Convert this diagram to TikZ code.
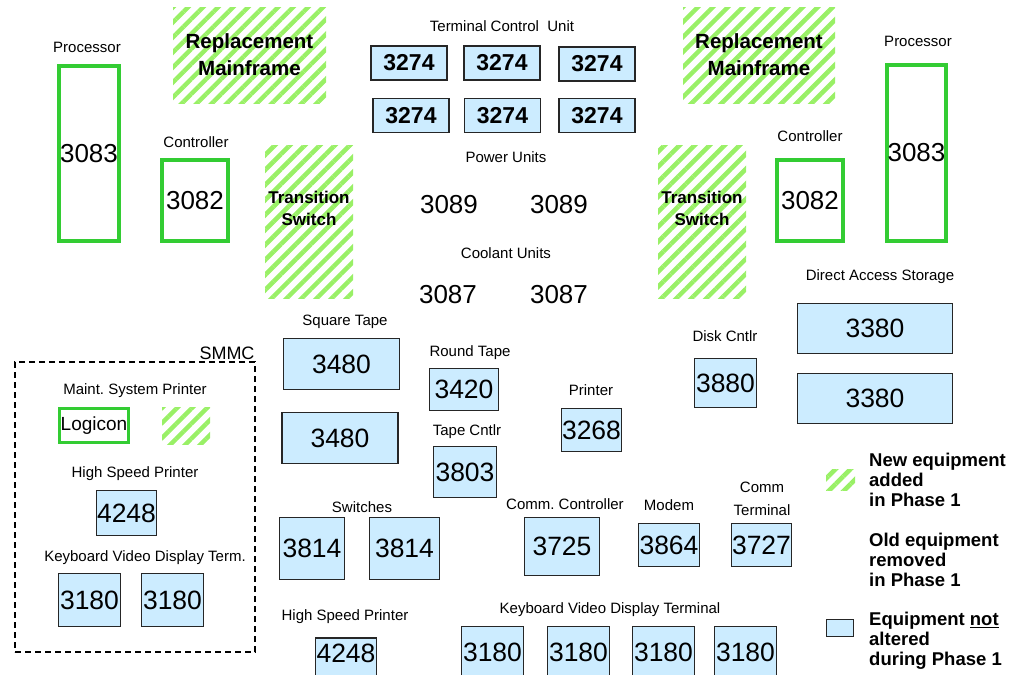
\documentclass[tikz,border=0pt]{standalone}
\usepackage{fontspec}
\setmainfont{Liberation Sans}
\usepackage{tikz}
\usetikzlibrary{patterns.meta}
\definecolor{KeptBlue}{RGB}{204,236,255}
\definecolor{OldGreen}{RGB}{51,204,51}
\definecolor{NewGreen}{RGB}{153,240,102}
\newcommand{\pxsize}[2]{\fontsize{#1}{#2}\selectfont}
\frenchspacing

\begin{document}
\begin{tikzpicture}[x=1pt, y=-1pt,
    sz/.style 2 args={minimum width=#1pt, minimum height=#2pt},
    kept/.style={draw=black!85, line width=1.5pt, fill=KeptBlue, inner sep=0pt, font=\pxsize{26.5}{26.5}},
    tcu/.style={kept, font=\bfseries\pxsize{23}{23}, sz={76}{34}},
    removed/.style={draw=OldGreen, line width=4pt, inner sep=0pt, font=\pxsize{26}{26}},
    added/.style={pattern={Lines[angle=45, distance=10.6pt, line width=4.5pt]}, pattern color=NewGreen, inner sep=0pt, align=center},
    lbl/.style={inner sep=0pt, font=\pxsize{15}{23}, align=center},
    num/.style={inner sep=0pt, font=\pxsize{26}{26}},
    keytext/.style={inner sep=0pt, anchor=west, align=left, font=\bfseries\pxsize{18.5}{20}}]
    \useasboundingbox (0,0) rectangle (1013,675);

    % Left mainframe
    \node (procLlbl) [lbl] at (87,47) {Processor};
    \node (procL) [removed, sz={60}{175}] at (89,153.5) {3083};
    \node (ctlLlbl) [lbl] at (196,142) {Controller};
    \node (ctlL) [removed, sz={66}{81}] at (195,200.5) {3082};
    \node (repL) [added, sz={153}{96}, font=\bfseries\pxsize{20.5}{27}] at (249.5,55) {Replacement\\Mainframe};
    \node (tswL) [added, sz={88}{153}, text depth=26pt, font=\bfseries\pxsize{17}{22}] at (309,221.5) {Transition\\Switch};

    % Terminal control units
    \node (tculbl) [lbl] at (502,26) {Terminal Control\ \ Unit};
    \node (tcuA) [tcu] at (409,63) {3274};
    \node (tcuB) [tcu] at (502,63) {3274};
    \node (tcuC) [tcu] at (597,64) {3274};
    \node (tcuD) [tcu] at (411,115.5) {3274};
    \node (tcuE) [tcu] at (502.5,115.5) {3274};
    \node (tcuF) [tcu] at (597,115.5) {3274};

    % Power and coolant
    \node (pwrlbl) [lbl] at (506,157) {Power Units};
    \node (pwrA) [num] at (449,205) {3089};
    \node (pwrB) [num] at (559,205) {3089};
    \node (coollbl) [lbl] at (506,253) {Coolant Units};
    \node (coolA) [num] at (448,295) {3087};
    \node (coolB) [num] at (559,295) {3087};

    % Right mainframe
    \node (repR) [added, sz={152}{96}, font=\bfseries\pxsize{20.5}{27}] at (759,55) {Replacement\\Mainframe};
    \node (tswR) [added, sz={88}{153}, text depth=26pt, font=\bfseries\pxsize{17}{22}] at (702,221.5) {Transition\\Switch};
    \node (ctlRlbl) [lbl] at (810,136) {Controller};
    \node (ctlR) [removed, sz={66}{81}] at (810,200.5) {3082};
    \node (procRlbl) [lbl] at (918,41) {Processor};
    \node (procR) [removed, sz={59}{176}] at (916.5,153) {3083};

    % Disk storage
    \node (daslbl) [lbl] at (880,277) {Direct Access Storage};
    \node (dasA) [kept, sz={155}{50}] at (875,328.5) {3380};
    \node (dasB) [kept, sz={155}{50}] at (875,398.5) {3380};
    \node (dsklbl) [lbl] at (725,336) {Disk Cntlr};
    \node (dsk) [kept, sz={62}{49}] at (725.5,383) {3880};
    \node (prtlbl) [lbl] at (591,390) {Printer};
    \node (prt) [kept, sz={60}{43}] at (591.5,430) {3268};

    % Tapes
    \node (sqlbl) [lbl] at (345,322) {Square Tape};
    \node (sqA) [kept, sz={116}{51}] at (341.5,364) {3480};
    \node (sqB) [kept, sz={116}{51}] at (340,438) {3480};
    \node (rndlbl) [lbl] at (470,353) {Round Tape};
    \node (rnd) [kept, sz={69}{42}] at (464,389.5) {3420};
    \node (tpclbl) [lbl] at (467,432) {Tape Cntlr};
    \node (tpc) [kept, sz={63}{51}] at (465,472) {3803};

    % Switches and communications
    \node (swlbl) [lbl] at (362,507) {Switches};
    \node (swA) [kept, sz={65}{62}] at (312,548.5) {3814};
    \node (swB) [kept, sz={70}{62}] at (404.5,548.5) {3814};
    \node (cclbl) [lbl] at (565,504) {Comm. Controller};
    \node (cc) [kept, sz={75}{58}] at (562,546.5) {3725};
    \node (mdmlbl) [lbl] at (669,505) {Modem};
    \node (mdm) [kept, sz={61}{43}] at (669,545) {3864};
    \node (ctlbl) [lbl] at (762,498.5) {Comm\\Terminal};
    \node (ct) [kept, sz={60}{43}] at (761.5,545) {3727};

    % Bottom row
    \node (hsplbl) [lbl] at (345,617) {High Speed Printer};
    \node (hsp) [kept, sz={61}{52}, text depth=22pt] at (346,664) {4248};
    \node (kvdlbl) [lbl] at (610,610) {Keyboard Video Display Terminal};
    \node (kvdA) [kept, sz={62}{63}, text depth=12pt] at (492.5,658) {3180};
    \node (kvdB) [kept, sz={62}{63}, text depth=12pt] at (578.5,658) {3180};
    \node (kvdC) [kept, sz={62}{63}, text depth=12pt] at (663.5,658) {3180};
    \node (kvdD) [kept, sz={62}{63}, text depth=12pt] at (745.5,658) {3180};

    % SMMC area
    \node (smmc) [draw, line width=1.5pt, dash pattern=on 6pt off 4pt, sz={240}{290}] at (135,507) {};
    \node (smmclbl) [lbl, font=\pxsize{18}{18}] at (227,353) {SMMC};
    \node (msplbl) [lbl] at (135,391) {Maint. System Printer};
    \node (logi) [removed, line width=3.5pt, sz={69}{34}, font=\pxsize{19}{19}] at (94,425.5) {Logicon};
    \node (msp) [added, sz={48}{37}] at (186,425.5) {};
    \node (shsplbl) [lbl] at (135,474) {High Speed Printer};
    \node (shsp) [kept, sz={60}{45}] at (126.5,513) {4248};
    \node (skvdlbl) [lbl] at (145,558) {Keyboard Video Display Term.};
    \node (skvdA) [kept, sz={62}{53}] at (89.5,600) {3180};
    \node (skvdB) [kept, sz={62}{53}] at (172.5,600) {3180};

    % Legend
    \node (keyNew) [added, sz={29}{21}] at (840.5,479.5) {};
    \node (keyNewtxt) [keytext] at (869,480) {New equipment\\added\\in Phase 1};
    \node (keyOldtxt) [keytext] at (869,560) {Old equipment\\removed\\in Phase 1};
    \node (keyKept) [kept, sz={27}{17}] at (840,628) {};
    \node (keyKepttxt) [keytext] at (869,641) {Equipment \underline{not}\\altered\\during Phase 1};
\end{tikzpicture}
\end{document}
